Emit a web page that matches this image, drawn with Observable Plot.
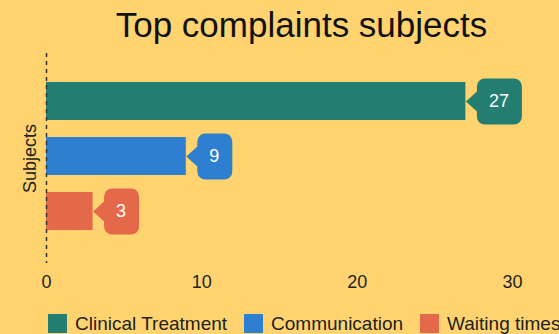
<!DOCTYPE html>
<html>
<head>
<meta charset="utf-8">
<script src="https://cdn.jsdelivr.net/npm/d3@7"></script>
<script src="https://cdn.jsdelivr.net/npm/@observablehq/plot@0.6"></script>
<style>
  html, body { margin: 0; padding: 0; }
  body { width: 559px; height: 334px; overflow: hidden; background: #FFD470; position: relative;
         font-family: "Liberation Sans", Arial, sans-serif; }
  #title { position: absolute; left: 0; top: 5px; width: 603px; text-align: center;
           font-size: 35px; line-height: 40px; color: #111; white-space: nowrap; }
  #chart { position: absolute; left: 0; top: 50px; }
  #legend { position: absolute; left: 48px; top: 314px; display: flex; align-items: center;
            font-size: 19px; line-height: 19px; color: #222; white-space: nowrap; }
  .item { display: flex; align-items: center; margin-right: 17px; }
  .sw { width: 19px; height: 19px; margin-right: 8px; }
</style>
</head>
<body>
<div id="title">Top complaints subjects</div>
<div id="chart"></div>
<div id="legend"></div>
<script>
const subjects = ["Clinical Treatment", "Communication", "Waiting times"];
const counts = [27, 9, 3];
const colors = ["#237D71", "#2F7FD0", "#E4694A"];
const xTicks = [0, 10, 20, 30];
const yLabel = "Subjects";
const titleText = "Top complaints subjects";

document.getElementById("title").textContent = titleText;

const data = subjects.map((s, i) => ({subject: s, value: counts[i], w: 25 + 10 * String(counts[i]).length}));

// callout shape: pointer tip at (0,0), rounded box to the right; width from the r channel
const callout = {
  draw(ctx, size) {
    const w = Math.sqrt(size / Math.PI);
    const a = 11, ah = 10, h = 23, r = 8;
    const x0 = a, x1 = a + w;
    ctx.moveTo(0, 0);
    ctx.lineTo(x0, -ah);
    ctx.lineTo(x0, -h + r);
    ctx.arcTo(x0, -h, x0 + r, -h, r);
    ctx.lineTo(x1 - r, -h);
    ctx.arcTo(x1, -h, x1, -h + r, r);
    ctx.lineTo(x1, h - r);
    ctx.arcTo(x1, h, x1 - r, h, r);
    ctx.lineTo(x0 + r, h);
    ctx.arcTo(x0, h, x0, h - r, r);
    ctx.lineTo(x0, ah);
    ctx.closePath();
  }
};

const chart = Plot.plot({
  width: 559,
  height: 258,
  marginLeft: 46,
  marginRight: 47,
  marginTop: 3,
  marginBottom: 45,
  style: {background: "transparent", fontSize: "18px", fontFamily: "'Liberation Sans', Arial, sans-serif", color: "#222", overflow: "visible"},
  x: {domain: [0, 30], axis: null, label: null},
  y: {domain: subjects, range: [13.5, 197.5], padding: 0.315, axis: null, label: null},
  color: {domain: subjects, range: colors},
  r: {type: "identity"},
  marks: [
    Plot.barX(data, {x: "value", y: "subject", fill: "subject"}),
    Plot.ruleX([0], {stroke: "#333", strokeWidth: 1.5, strokeDasharray: "4,4"}),
    Plot.dot(data, {x: "value", y: "subject", fill: "subject", r: "w", symbol: callout, stroke: null}),
    Plot.text(data, {x: "value", y: "subject", text: d => String(d.value), textAnchor: "start", dx: 23, fill: "white", fontSize: 18}),
    Plot.axisX({ticks: xTicks, tickSize: 0, tickPadding: 12, fontSize: 18, fill: "#222", label: null}),
    Plot.text([yLabel], {frameAnchor: "left", textAnchor: "middle", rotate: -90, dx: -16, fontSize: 18, fill: "#222"})
  ]
});
document.getElementById("chart").appendChild(chart);

const legend = document.getElementById("legend");
subjects.forEach((s, i) => {
  const item = document.createElement("div");
  item.className = "item";
  const sw = document.createElement("div");
  sw.className = "sw";
  sw.style.background = colors[i];
  const t = document.createElement("span");
  t.textContent = s;
  item.appendChild(sw);
  item.appendChild(t);
  legend.appendChild(item);
});
</script>
</body>
</html>
